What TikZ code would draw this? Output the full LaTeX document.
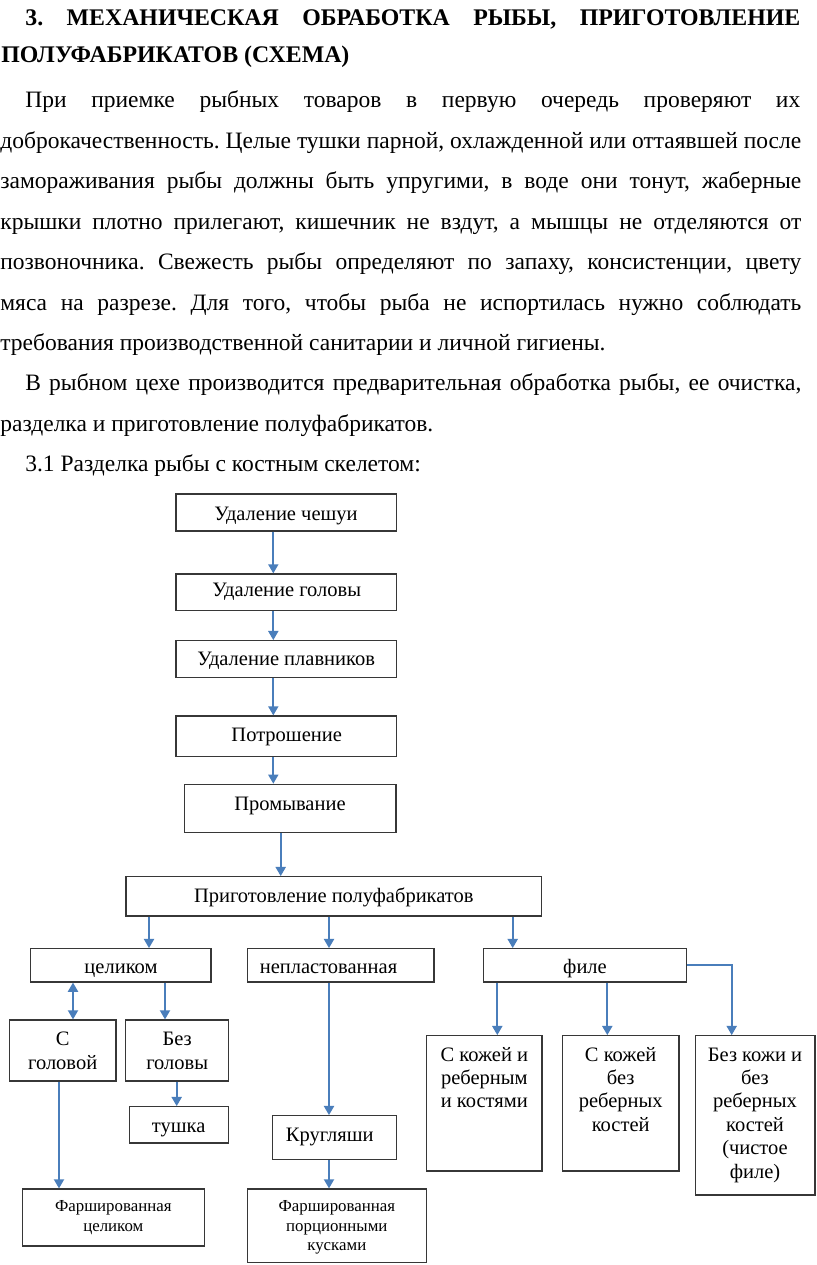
\documentclass[tikz,border=0pt]{standalone}
\usepackage{fontspec}
\setmainfont{Liberation Serif}
\usetikzlibrary{arrows.meta,fit}
\definecolor{arrblue}{RGB}{74,126,187}
\definecolor{boxgray}{RGB}{55,55,55}
\newcommand\bxn[5]{\node[bx, fit={(#2,#3) (#4,#5)}] (#1) {};}
\newcommand\mlt[1]{\parbox[t]{150pt}{\centering #1}}
\frenchspacing
\begin{document}
\begin{tikzpicture}[x=0.6pt,y=-0.6pt,
 bt/.style={inner sep=0pt, anchor=base west, font=\fontsize{14.1}{16}\selectfont},
 ht/.style={inner sep=0pt, anchor=base west, font=\fontsize{14.3}{16}\selectfont\bfseries},
 bx/.style={draw=boxgray, line width=0.7pt, inner sep=0pt, rectangle},
 tx/.style={inner sep=0pt, anchor=base, font=\fontsize{12.3}{14.04}\selectfont},
 sx/.style={inner sep=0pt, anchor=base, font=\fontsize{10.1}{11.58}\selectfont},
 arr/.style={draw=arrblue, line width=1.2pt, -{Triangle[width=6pt,length=5.5pt]}},
 thinarr/.style={arr, line width=1.05pt},
 darr/.style={draw=arrblue, line width=1.2pt, {Triangle[width=6pt,length=5.5pt]}-{Triangle[width=6pt,length=5.5pt]}}]
\fill[white] (0,0) rectangle (816,1265);
\useasboundingbox (0,0) rectangle (816,1265);

% ---- text ----
\node[ht] (h1) at (25,26) {\makebox[465pt][s]{3. МЕХАНИЧЕСКАЯ ОБРАБОТКА РЫБЫ, ПРИГОТОВЛЕНИЕ}};
\node[ht] (h2) at (1,62.5) {ПОЛУФАБРИКАТОВ (СХЕМА)};
\node[bt] (l1) at (25,108) {\makebox[465pt][s]{При приемке рыбных товаров в первую очередь проверяют их}};
\node[bt] (l2) at (0,148.4) {\makebox[480.6pt][s]{доброкачественность. Целые тушки парной, охлажденной или оттаявшей после}};
\node[bt] (l3) at (0,188.8) {\makebox[480.6pt][s]{замораживания рыбы должны быть упругими, в воде они тонут, жаберные}};
\node[bt] (l4) at (0,229.2) {\makebox[480.6pt][s]{крышки плотно прилегают, кишечник не вздут, а мышцы не отделяются от}};
\node[bt] (l5) at (0,269.6) {\makebox[480.6pt][s]{позвоночника. Свежесть рыбы определяют по запаху, консистенции, цвету}};
\node[bt] (l6) at (0,310) {\makebox[480.6pt][s]{мяса на разрезе. Для того, чтобы рыба не испортилась нужно соблюдать}};
\node[bt] (l7) at (0,350.4) {требования производственной санитарии и личной гигиены.};
\node[bt] (l8) at (25,390.8) {\makebox[465.6pt][s]{В рыбном цехе производится предварительная обработка рыбы, ее очистка,}};
\node[bt] (l9) at (0,431.2) {разделка и приготовление полуфабрикатов.};
\node[bt] (l10) at (25,471.6) {3.1 Разделка рыбы с костным скелетом:};

% ---- boxes ----
\bxn{b1}{176}{494}{396.7}{531}
\bxn{b2}{176}{574}{396.7}{610.7}
\bxn{b3}{176}{640.7}{396.7}{677.3}
\bxn{b4}{176}{716}{396.7}{756.7}
\bxn{b5}{184.3}{784.3}{396}{832.7}
\bxn{prep}{126}{876.7}{541.7}{916}
\bxn{cel}{30.7}{948.7}{211}{982}
\bxn{nep}{247.3}{948.7}{434}{982}
\bxn{fil}{483.3}{948.7}{686.3}{982}
\bxn{sg}{9.3}{1020}{116}{1081}
\bxn{bg}{125.7}{1020}{228.7}{1081}
\bxn{tu}{129.7}{1106.7}{228.7}{1143}
\bxn{kr}{272.7}{1115.7}{396.3}{1159.7}
\bxn{fc}{22.7}{1189}{204.7}{1246}
\bxn{fp}{247.3}{1189}{426.3}{1262.7}
\bxn{bA}{426.7}{1035.7}{542}{1171}
\bxn{bB}{562.3}{1035.7}{679}{1171}
\bxn{bC}{695.3}{1035.7}{815}{1195}

% ---- box texts ----
\node[tx] (b1t) at (286,520.7) {Удаление чешуи};
\node[tx] (b2t) at (286.8,596.7) {Удаление головы};
\node[tx] (b3t) at (286.2,665) {Удаление плавников};
\node[tx] (b4t) at (286.7,741.7) {Потрошение};
\node[tx] (b5t) at (290,810) {Промывание};
\node[tx] (prept) at (333.8,902.7) {Приготовление полуфабрикатов};
\node[tx] (celt) at (121,973.3) {целиком};
\node[tx] (nept) at (328.5,973.3) {непластованная};
\node[tx] (filt) at (585,973.3) {филе};
\node[tx] (sgt) at (62.7,1045.7) {\mlt{С\\головой}};
\node[tx] (bgt) at (177.2,1045.7) {\mlt{Без\\головы}};
\node[tx] (tut) at (178.7,1132.3) {тушка};
\node[tx] (krt) at (329.7,1141) {Кругляши};
\node[sx] (fct) at (113.3,1211.7) {\mlt{Фаршированная\\целиком}};
\node[sx] (fpt) at (336.8,1211.7) {\mlt{Фаршированная\\порционными\\кусками}};
\node[tx] (bAt) at (484.3,1061) {\mlt{С кожей и\\реберным\\и костями}};
\node[tx] (bBt) at (620.7,1061) {\mlt{С кожей\\без\\реберных\\костей}};
\node[tx] (bCt) at (755,1061) {\mlt{Без кожи и\\без\\реберных\\костей\\(чистое\\филе)}};

% ---- connectors ----
\draw[arr] (273.3,0 |- b1.south) -- (273.3,0 |- b2.north);
\draw[arr] (273.3,0 |- b2.south) -- (273.3,0 |- b3.north);
\draw[arr] (273.3,0 |- b3.south) -- (273.3,0 |- b4.north);
\draw[arr] (273.3,0 |- b4.south) -- (273.3,0 |- b5.north);
\draw[arr] (280.7,0 |- b5.south) -- (280.7,0 |- prep.north);
\draw[arr] (149,0 |- prep.south) -- (149,0 |- cel.north);
\draw[arr] (329,0 |- prep.south) -- (329,0 |- nep.north);
\draw[arr] (512.7,0 |- prep.south) -- (512.7,0 |- fil.north);
\draw[darr] (73,0 |- cel.south) -- (73,0 |- sg.north);
\draw[arr] (165,0 |- cel.south) -- (165,0 |- bg.north);
\draw[arr] (176.7,0 |- bg.south) -- (176.7,0 |- tu.north);
\draw[arr] (59,0 |- sg.south) -- (59,0 |- fc.north);
\draw[arr] (329,0 |- nep.south) -- (329,0 |- kr.north);
\draw[arr] (329,0 |- kr.south) -- (329,0 |- fp.north);
\draw[arr] (497.3,0 |- fil.south) -- (497.3,0 |- bA.north);
\draw[arr] (607.3,0 |- fil.south) -- (607.3,0 |- bB.north);
\draw[thinarr] (fil.east) -| (731.7,0 |- bC.north);
\end{tikzpicture}
\end{document}
